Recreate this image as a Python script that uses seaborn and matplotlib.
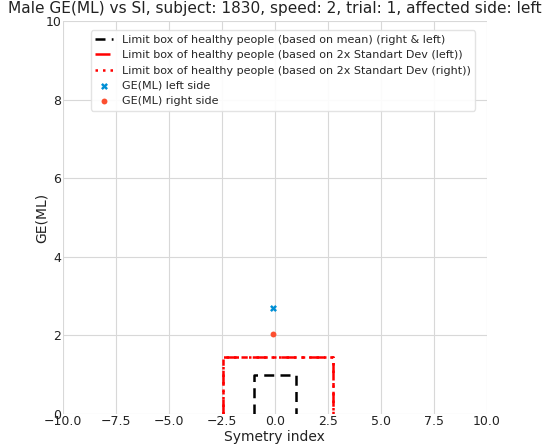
import matplotlib
matplotlib.use("Agg")
import matplotlib.pyplot as plt
import seaborn as sns

# Healthy-reference limit boxes (symmetry index half-width, GE(ML) height)
mean_box_si = [-1.0, -1.0, 1.0, 1.0]
mean_box_ge = [0.0, 1.0, 1.0, 0.0]
sd_left_box_si = [-2.45, -2.45, 2.72, 2.72]
sd_left_box_ge = [0.0, 1.44, 1.44, 0.0]
sd_right_box_si = [-2.45, -2.45, 2.72, 2.72]
sd_right_box_ge = [0.0, 1.44, 1.44, 0.0]

# Subject measurements
left_si = [-0.08]
left_ge = [2.70]
right_si = [-0.08]
right_ge = [2.04]

x_ticks = [-10.0, -7.5, -5.0, -2.5, 0.0, 2.5, 5.0, 7.5, 10.0]
y_ticks = [0, 2, 4, 6, 8, 10]

sns.set_theme(style="whitegrid")
plt.rcParams["font.family"] = ["DejaVu Sans"]

fig = plt.figure(figsize=(5.46, 4.47), dpi=100)
ax = fig.add_axes([0.115, 0.074, 0.777, 0.879])

box_kw = dict(sort=False, estimator=None, ax=ax, linewidth=1.8)
sns.lineplot(x=mean_box_si, y=mean_box_ge, color="black",
             linestyle=(0, (4, 2.5)),
             label="Limit box of healthy people (based on mean) (right & left)", **box_kw)
sns.lineplot(x=sd_left_box_si, y=sd_left_box_ge, color="red",
             linestyle=(0, (6, 2, 1.5, 2)),
             label="Limit box of healthy people (based on 2x Standart Dev (left))", **box_kw)
sns.lineplot(x=sd_right_box_si, y=sd_right_box_ge, color="red",
             linestyle=(0, (1, 2)),
             label="Limit box of healthy people (based on 2x Standart Dev (right))", **box_kw)
sns.scatterplot(x=left_si, y=left_ge, ax=ax, marker="X", color="#008fd5", s=25,
                linewidth=0, label="GE(ML) left side")
sns.scatterplot(x=right_si, y=right_ge, ax=ax, marker="o", color="#fc4f30", s=18,
                linewidth=0, label="GE(ML) right side")

ax.set_xlim(-10, 10)
ax.set_ylim(0, 10)
ax.set_xticks(x_ticks)
ax.set_yticks(y_ticks)
ax.tick_params(axis="both", length=0, pad=1, labelsize=9, colors="#222222")
ax.grid(True, color="#d8d8d8", linewidth=0.8)
for sp in ax.spines.values():
    sp.set_visible(False)

ax.set_xlabel("Symetry index", fontsize=10, labelpad=1, color="#222222")
ax.set_ylabel("GE(ML)", fontsize=10, labelpad=-2, color="#222222")
ax.set_title("Male GE(ML) vs SI, subject: 1830, speed: 2, trial: 1, affected side: left",
             fontsize=11.1, pad=6, color="#222222")

leg = ax.legend(loc="upper right", fontsize=8, frameon=True, framealpha=0.9,
                borderpad=0.4, labelspacing=0.48, handlelength=1.6,
                bbox_to_anchor=(0.985, 0.99))
leg.get_frame().set_edgecolor("#e0e0e0")

fig.savefig("out.png", dpi=100)
